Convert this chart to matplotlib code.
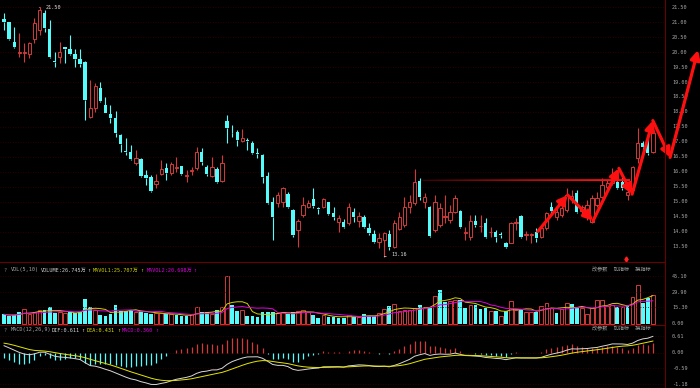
import numpy as np
import pandas as pd
import matplotlib
matplotlib.use("Agg")
import matplotlib.pyplot as plt

# daily candles, oldest first
opens = [21.11, 21.01, 20.34, 19.96, 19.98, 19.94, 20.44, 20.74, 21.31, 20.77,
         19.70, 19.84, 20.17, 20.11, 19.94, 19.77, 19.67, 17.83, 18.13, 18.80,
         18.23, 17.93, 17.80, 17.23, 16.68, 16.66, 16.29, 16.43, 15.89, 15.83,
         15.59, 15.93, 16.13, 15.96, 16.14, 16.19, 15.86, 16.04, 16.13, 16.66,
         16.16, 15.86, 16.09, 15.69, 17.70, 17.31, 17.33, 17.03, 17.05, 16.96,
         16.63, 16.56, 15.86, 14.99, 14.96, 14.99, 15.26, 14.72, 14.05, 14.55,
         14.82, 15.09, 14.77, 14.82, 14.99, 14.62, 14.32, 14.32, 14.29, 14.65,
         14.35, 14.49, 14.12, 13.92, 13.65, 13.72, 13.92, 13.48, 14.09, 14.22,
         14.82, 14.96, 15.69, 14.99, 14.82, 14.05, 14.22, 14.50, 14.39, 14.65,
         14.69, 13.96, 13.82, 14.35, 14.17, 14.29, 13.97, 13.99, 13.90, 13.62,
         13.62, 14.30, 14.52, 13.88, 13.88, 13.99, 13.82, 14.12, 14.82, 14.49,
         14.55, 14.72, 15.09, 15.29, 14.69, 14.55, 14.32, 14.89, 15.16, 15.49,
         15.62, 15.66, 15.66, 15.22, 15.39, 16.46, 16.96, 17.00, 16.66]
highs = [21.31, 21.02, 20.84, 20.64, 20.31, 20.34, 21.14, 21.50, 21.41, 21.08,
         20.00, 20.34, 20.18, 20.57, 20.11, 20.11, 19.70, 19.07, 18.97, 19.00,
         18.50, 18.23, 18.03, 17.25, 17.13, 16.89, 16.73, 16.45, 16.06, 15.89,
         15.93, 16.39, 16.29, 16.33, 16.49, 16.20, 16.06, 16.16, 16.83, 16.79,
         16.23, 16.49, 16.16, 16.56, 17.90, 17.56, 17.40, 17.43, 17.13, 17.03,
         16.79, 16.58, 15.99, 15.16, 15.32, 15.49, 15.32, 14.74, 14.42, 15.16,
         15.06, 15.46, 14.82, 15.12, 15.00, 14.82, 14.55, 14.42, 14.96, 14.79,
         14.65, 14.55, 14.29, 14.05, 13.95, 13.99, 14.05, 14.39, 14.65, 15.16,
         15.22, 16.09, 15.79, 15.29, 14.84, 15.22, 14.96, 15.22, 14.89, 15.22,
         14.72, 14.15, 14.55, 14.55, 14.55, 14.45, 14.15, 14.05, 13.99, 13.65,
         14.32, 14.45, 14.55, 14.02, 13.95, 14.12, 14.22, 14.65, 14.99, 14.79,
         14.89, 15.46, 15.39, 15.39, 14.89, 15.06, 15.22, 15.32, 15.79, 15.72,
         16.13, 15.79, 15.83, 15.46, 16.19, 17.46, 17.03, 17.16, 17.33]
lows = [20.74, 20.41, 20.15, 19.84, 19.67, 19.80, 20.31, 20.57, 20.67, 19.80,
        19.50, 19.64, 19.64, 19.90, 19.50, 19.50, 17.73, 17.80, 18.00, 18.33,
        17.95, 17.63, 17.16, 16.66, 16.56, 16.39, 16.23, 15.84, 15.56, 15.32,
        15.46, 15.89, 15.72, 15.89, 15.99, 15.89, 15.66, 15.89, 16.06, 16.23,
        15.86, 15.83, 15.62, 15.66, 16.96, 17.16, 16.86, 17.00, 16.73, 16.59,
        16.46, 15.62, 14.92, 13.72, 14.82, 14.82, 14.79, 13.82, 13.48, 14.49,
        14.79, 14.79, 14.59, 14.79, 14.55, 14.39, 13.99, 14.12, 14.22, 14.32,
        14.15, 14.12, 13.89, 13.62, 13.45, 13.16, 13.38, 13.45, 14.05, 14.15,
        14.62, 14.89, 15.06, 14.79, 13.82, 13.99, 14.15, 14.29, 14.29, 14.62,
        14.12, 13.72, 13.72, 14.15, 13.99, 13.79, 13.82, 13.65, 13.79, 13.45,
        13.60, 14.05, 13.79, 13.72, 13.62, 13.65, 13.79, 14.05, 14.62, 14.39,
        14.49, 14.65, 14.96, 14.62, 14.55, 14.39, 14.29, 14.82, 15.12, 15.39,
        15.56, 15.42, 15.39, 15.06, 15.36, 16.29, 16.73, 16.56, 16.63]
closes = [21.01, 20.44, 20.17, 19.99, 20.02, 20.31, 20.97, 21.41, 20.81, 19.84,
          19.67, 20.00, 20.11, 19.94, 19.77, 19.60, 18.40, 18.13, 18.87, 18.37,
          17.97, 17.80, 17.30, 16.93, 16.65, 16.43, 16.46, 15.86, 15.79, 15.36,
          15.69, 16.09, 15.96, 16.26, 16.17, 15.93, 15.89, 16.07, 16.66, 16.33,
          15.93, 16.16, 15.66, 16.29, 17.46, 17.28, 17.06, 17.13, 17.02, 16.63,
          16.59, 15.83, 14.96, 14.49, 15.22, 15.46, 14.82, 13.89, 14.35, 14.89,
          14.96, 14.86, 14.74, 15.09, 14.59, 14.49, 14.45, 14.15, 14.82, 14.49,
          14.52, 14.15, 13.95, 13.65, 13.79, 13.95, 13.48, 14.29, 14.49, 14.82,
          14.99, 15.66, 15.16, 15.16, 13.85, 14.99, 14.79, 14.52, 14.65, 15.12,
          14.15, 13.99, 14.35, 14.22, 14.19, 13.82, 13.99, 13.82, 13.88, 13.48,
          14.29, 14.32, 13.82, 13.90, 13.90, 13.79, 14.12, 14.62, 14.69, 14.65,
          14.79, 15.22, 15.19, 14.65, 14.82, 14.89, 15.12, 15.12, 15.56, 15.62,
          15.89, 15.46, 15.46, 15.32, 16.16, 16.96, 16.83, 16.63, 17.30]
# volume in 万手
volumes = [8.7, 7.4, 8.0, 10.6, 13.8, 9.5, 10.6, 12.8, 12.8, 15.4,
           9.7, 10.6, 9.7, 10.6, 9.7, 11.4, 23.3, 15.4, 12.8, 8.0,
           7.4, 8.7, 17.6, 11.9, 11.9, 12.8, 11.2, 11.9, 9.7, 8.7,
           9.7, 9.7, 8.7, 8.7, 8.0, 7.0, 7.0, 8.7, 15.4, 10.6,
           10.6, 8.7, 12.8, 16.0, 45.1, 17.6, 11.9, 12.8, 7.4, 7.0,
           6.4, 10.6, 10.6, 10.6, 9.7, 11.2, 8.7, 10.6, 11.9, 12.8,
           11.2, 8.0, 5.7, 8.0, 6.4, 6.4, 5.7, 5.7, 8.0, 6.5,
           6.5, 8.7, 7.4, 7.4, 9.7, 13.8, 17.0, 18.2, 11.9, 12.8,
           12.8, 15.0, 17.6, 16.0, 15.0, 26.4, 31.8, 20.4, 21.0, 22.7,
           22.7, 14.6, 17.6, 17.6, 13.8, 14.6, 11.9, 11.9, 7.4, 11.9,
           21.6, 12.8, 12.8, 10.6, 11.2, 11.2, 17.0, 19.3, 15.0, 9.7,
           13.8, 19.3, 18.2, 15.0, 14.6, 8.7, 14.6, 22.7, 22.7, 17.0,
           17.6, 16.0, 16.0, 17.0, 25.5, 36.6, 19.3, 24.5, 26.7]

price_ticks = [13.5, 14.0, 14.5, 15.0, 15.5, 16.0, 16.5, 17.0, 17.5, 18.0,
               18.5, 19.0, 19.5, 20.0, 20.5, 21.0, 21.5]
vol_ticks = [45.10, 29.90, 15.30, 0.00]
macd_ticks = [0.61, 0.00, -0.59, -1.18]

# EMA state before the first visible bar (read from the first DIF/DEA values)
EMA12_SEED, EMA26_SEED, DEA_SEED = 21.25, 20.95, 0.38

# hand drawn annotations: (bar index, price)
zigzag = [(105.3, 14.0), (111.2, 15.22), (116.2, 14.36), (121.3, 16.11),
          (123.9, 15.25), (128.0, 17.71), (131.4, 16.48), (136.9, 20.07)]
hline = (82.5, 123.5, 15.72)
signal = (122.8, 13.07)

RED = "#d23a3a"
CYAN = "#54fcfc"
GRID = "#3a0000"
TXT = "#a8a8a8"
MONO = ["DejaVu Sans Mono", "Noto Sans CJK SC"]
FS = 3.7

o = np.array(opens); h = np.array(highs); l = np.array(lows); c = np.array(closes)
v = np.array(volumes)
n = len(c)
idx = np.arange(n)
up = c >= o
prev = np.r_[o[0], c[:-1]]
vup = c >= prev

W, H = 700, 388
fig = plt.figure(figsize=(W / 100, H / 100), dpi=100, facecolor="black")
plot_w = 664 / W
ax = fig.add_axes([0, 1 - 262 / H, plot_w, 262 / H])
axv = fig.add_axes([0, 1 - 325 / H, plot_w, 62 / H])
axm = fig.add_axes([0, 0, plot_w, 62 / H])
XL = (-0.8, 130.2)
for a in (ax, axv, axm):
    a.set_facecolor("black")
    a.set_xlim(*XL)
    a.set_xticks([]); a.set_yticks([])
    for s in a.spines.values():
        s.set_visible(False)

# ---- price panel
ax.set_ylim(12.98, 21.744)
for t in price_ticks:
    ax.axhline(t, color=GRID, lw=0.6, ls=(0, (1, 2)))
    ax.text(1.012, t, f"{t:.2f}", transform=ax.get_yaxis_transform(), color=TXT,
            fontsize=FS, family=MONO, va="center", ha="left", clip_on=False)
blo = np.minimum(o, c); bhi = np.maximum(o, c)
bh = np.maximum(bhi - blo, 0.015)
cols = np.where(up, RED, CYAN)
ax.vlines(idx, l, blo, colors=cols, lw=0.8)
ax.vlines(idx, bhi, h, colors=cols, lw=0.8)
ax.bar(idx[up], bh[up], bottom=blo[up], width=0.66, facecolor="black",
       edgecolor=RED, linewidth=0.7, zorder=3)
ax.bar(idx[~up], bh[~up], bottom=blo[~up], width=0.66, color=CYAN,
       linewidth=0, zorder=3)

# max / min labels
imax = int(np.argmax(h)); imin = int(np.argmin(l))
ax.annotate(f"{h[imax]:.2f}", xy=(imax, h[imax]), xytext=(imax + 1.2, h[imax] - 0.02),
            color="#e0e0e0", fontsize=FS, family=MONO, va="center",
            arrowprops=dict(arrowstyle="-", color="#e0e0e0", lw=0.5))
ax.annotate(f"{l[imin]:.2f}", xy=(imin, l[imin]), xytext=(imin + 1.5, l[imin] + 0.06),
            color="#e0e0e0", fontsize=FS, family=MONO, va="center",
            arrowprops=dict(arrowstyle="-", color="#e0e0e0", lw=0.5))
ax.plot([signal[0]], [signal[1]], marker="d", ms=2.6, color="#ff2020", lw=0)

# red drawings
x0, x1, yv = hline
ax.fill([x0, x1, x1, x0], [yv - 0.005, yv - 0.035, yv + 0.035, yv + 0.005],
        color="#ff1010", lw=0, zorder=5)
for (xa, ya), (xb, yb) in zip(zigzag[:-1], zigzag[1:]):
    ax.annotate("", xy=(xb, yb), xytext=(xa, ya), annotation_clip=False,
                arrowprops=dict(arrowstyle="-|>,head_length=0.55,head_width=0.28",
                                color="#ff1010", lw=2.3, shrinkA=0, shrinkB=0),
                zorder=6)

# ---- volume panel
axv.set_ylim(-1.4, 57.5)
for t in vol_ticks[:-1]:
    axv.axhline(t, color=GRID, lw=0.6, ls=(0, (1, 2)))
for t in vol_ticks:
    axv.text(1.012, t, f"{t:.2f}", transform=axv.get_yaxis_transform(), color=TXT,
             fontsize=FS, family=MONO, va="center", ha="left", clip_on=False)
axv.bar(idx[vup], v[vup], width=0.74, facecolor="black", edgecolor=RED, linewidth=0.7)
axv.bar(idx[~vup], v[~vup], width=0.74, color=CYAN, linewidth=0)
vs = pd.Series(v)
axv.plot(idx, vs.rolling(5, min_periods=1).mean(), color="#d0d000", lw=0.7)
axv.plot(idx, vs.rolling(10, min_periods=1).mean(), color="#e000e0", lw=0.7)

# ---- MACD panel
e12, e26, dea = EMA12_SEED, EMA26_SEED, DEA_SEED
dif_l, dea_l = [], []
for px in c:
    e12 = e12 + (px - e12) * 2 / 13
    e26 = e26 + (px - e26) * 2 / 27
    d = e12 - e26
    dea = dea + (d - dea) * 2 / 10
    dif_l.append(d); dea_l.append(dea)
dif_a = np.array(dif_l); dea_a = np.array(dea_l)
hist = 2 * (dif_a - dea_a)
axm.set_ylim(-1.33, 1.0)
for t in macd_ticks:
    axm.axhline(t, color=GRID, lw=0.6, ls=(0, (1, 2)))
    axm.text(1.012, t, f"{t:.2f}", transform=axm.get_yaxis_transform(), color=TXT,
             fontsize=FS, family=MONO, va="center", ha="left", clip_on=False)
axm.vlines(idx, 0, hist, colors=np.where(hist >= 0, RED, CYAN), lw=0.9)
axm.plot(idx, dif_a, color="#d8d8d8", lw=0.7)
axm.plot(idx, dea_a, color="#e6e600", lw=0.7)

# panel borders
for yy in (262, 325):
    fig.add_artist(plt.Line2D([0, plot_w], [1 - yy / H] * 2, color="#6a0000", lw=0.8))
fig.add_artist(plt.Line2D([plot_w + 0.5 / W] * 2, [0, 1], color="#6a0000", lw=0.8))

# panel headers
def hdr(y_px, parts):
    for x_px, s, col in parts:
        fig.text(x_px / W, 1 - y_px / H, s, color=col, fontsize=FS, family=MONO,
                 va="center", ha="left")

hdr(270, [(3, "?", "#808080"), (11, "VOL(5,10)", TXT),
          (41, "VOLUME:26.745万", "#d0d0d0"), (87, "↑", "#d0d0d0"),
          (93, "MAVOL1:25.707万", "#d0d000"), (140, "↑", "#d0d000"),
          (147, "MAVOL2:20.698万", "#e000e0"), (193, "↑", "#e000e0")])
hdr(330, [(3, "?", "#808080"), (11, "MACD(12,26,9)", TXT),
          (52, "DIF:0.611", "#d8d8d8"), (81, "↑", "#d8d8d8"),
          (87, "DEA:0.431", "#e6e600"), (117, "↑", "#e6e600"),
          (122, "MACD:0.360", "#e000e0"), (155, "↑", "#e000e0")])
for y_px in (270, 329):
    fig.text(592 / W, 1 - y_px / H, "改参数  加指标  换指标", color="#a0a0a0",
             fontsize=FS, family=MONO, va="center", ha="left")

fig.savefig("out.png", dpi=100, facecolor="black")
